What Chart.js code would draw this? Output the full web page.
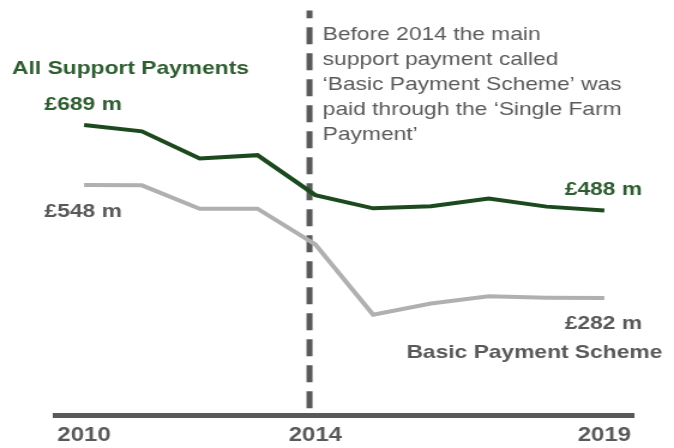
<!DOCTYPE html>
<html>
<head>
<meta charset="utf-8">
<script src="https://cdn.jsdelivr.net/npm/chart.js@4"></script>
<style>
  html, body { margin: 0; padding: 0; background: #fff; overflow: hidden; }
  /* the source picture is stretched sideways, so draw narrow and widen */
  #wrap { width: 562px; height: 448px; transform: scaleX(1.1993); transform-origin: 0 0; }
</style>
</head>
<body>
<div id="wrap"><canvas id="chart"></canvas></div>
<script>
// ── data ──────────────────────────────────────────────
const years        = [2010, 2011, 2012, 2013, 2014, 2015, 2016, 2017, 2018, 2019];
const allSupport   = [689, 674, 610, 618, 524, 493, 498, 516, 497, 488];
const basicPayment = [548, 547, 492, 492, 408, 243, 269, 286, 283, 282];
const xTicks       = [2010, 2014, 2019];
const dividerYear  = 2013.9;
const seriesNames  = ['All Support Payments', 'Basic Payment Scheme'];
const noteLines = [
  'Before 2014 the main',
  'support payment called',
  '\u2018Basic Payment Scheme\u2019 was',
  'paid through the \u2018Single Farm',
  'Payment\u2019',
];

const COLORS = {
  green: '#1c4a1e',
  greenText: '#2e5d30',
  grey: '#b0b0b0',
  dark: '#595959',
};
const FONT = '"Liberation Sans", Arial, sans-serif';

const last = years.length - 1;
const fmt = v => `\u00a3${v} m`;

// labels anchored to data points: [year, value], pixel offset
const notes = [
  { text: seriesNames[0], at: [years[0], allSupport[0]], dx: -60, dy: -51, color: COLORS.greenText },
  { text: fmt(allSupport[0]), at: [years[0], allSupport[0]], dx: -33, dy: -15, color: COLORS.greenText },
  { text: fmt(basicPayment[0]), at: [years[0], basicPayment[0]], dx: -33, dy: 32, color: COLORS.dark },
  { text: fmt(allSupport[last]), at: [years[last], allSupport[last]], dx: -33, dy: -15, color: COLORS.greenText },
  { text: fmt(basicPayment[last]), at: [years[last], basicPayment[last]], dx: -33, dy: 31, color: COLORS.dark },
  { text: seriesNames[1], at: [years[last], basicPayment[last]], dx: -165, dy: 60, color: COLORS.dark },
];

const notesPlugin = {
  id: 'notes',
  afterDatasetsDraw(chart) {
    const { ctx, chartArea, scales: { x, y } } = chart;
    ctx.save();
    ctx.textAlign = 'left';
    ctx.textBaseline = 'alphabetic';
    ctx.font = `bold 19px ${FONT}`;
    for (const n of notes) {
      ctx.fillStyle = n.color;
      ctx.fillText(n.text, x.getPixelForValue(n.at[0]) + n.dx, y.getPixelForValue(n.at[1]) + n.dy);
    }
    ctx.font = `19px ${FONT}`;
    ctx.fillStyle = COLORS.dark;
    const left = x.getPixelForValue(dividerYear) + 11;
    noteLines.forEach((t, i) => ctx.fillText(t, left, chartArea.top + 37 + i * 25.2));
    ctx.restore();
  },
};

const line = (arr) => years.map((yr, i) => ({ x: yr, y: arr[i] }));

new Chart(document.getElementById('chart'), {
  type: 'line',
  data: {
    datasets: [
      {
        label: seriesNames[0],
        data: line(allSupport),
        borderColor: COLORS.green,
        borderWidth: 4,
        pointRadius: 0,
        tension: 0,
        order: 0,
      },
      {
        label: seriesNames[1],
        data: line(basicPayment),
        borderColor: COLORS.grey,
        borderWidth: 4,
        pointRadius: 0,
        tension: 0,
        order: 1,
      },
      {
        label: 'divider',
        data: [{ x: dividerYear, y: 23 }, { x: dividerYear, y: 958 }],
        borderColor: COLORS.dark,
        borderWidth: 5,
        borderDash: [17, 9],
        borderCapStyle: 'butt',
        pointRadius: 0,
        order: 2,
      },
    ],
  },
  options: {
    responsive: true,
    maintainAspectRatio: false,
    animation: false,
    layout: { padding: { left: 46, right: 34, top: 0, bottom: 0 } },
    plugins: { legend: { display: false }, tooltip: { enabled: false } },
    scales: {
      x: {
        type: 'linear',
        min: 2009.5,
        max: 2019.5,
        afterBuildTicks: s => { s.ticks = xTicks.map(v => ({ value: v })); },
        afterFit: s => { s.height = 33; },
        grid: { display: false, drawTicks: false },
        border: { display: true, color: COLORS.dark, width: 5 },
        ticks: {
          color: COLORS.dark,
          padding: 10,
          maxRotation: 0,
          font: { family: FONT, size: 20, weight: 'bold', lineHeight: 1 },
          callback: v => String(v),
        },
      },
      y: { display: false, min: 7, max: 977 },
    },
  },
  plugins: [notesPlugin],
});
</script>
</body>
</html>
